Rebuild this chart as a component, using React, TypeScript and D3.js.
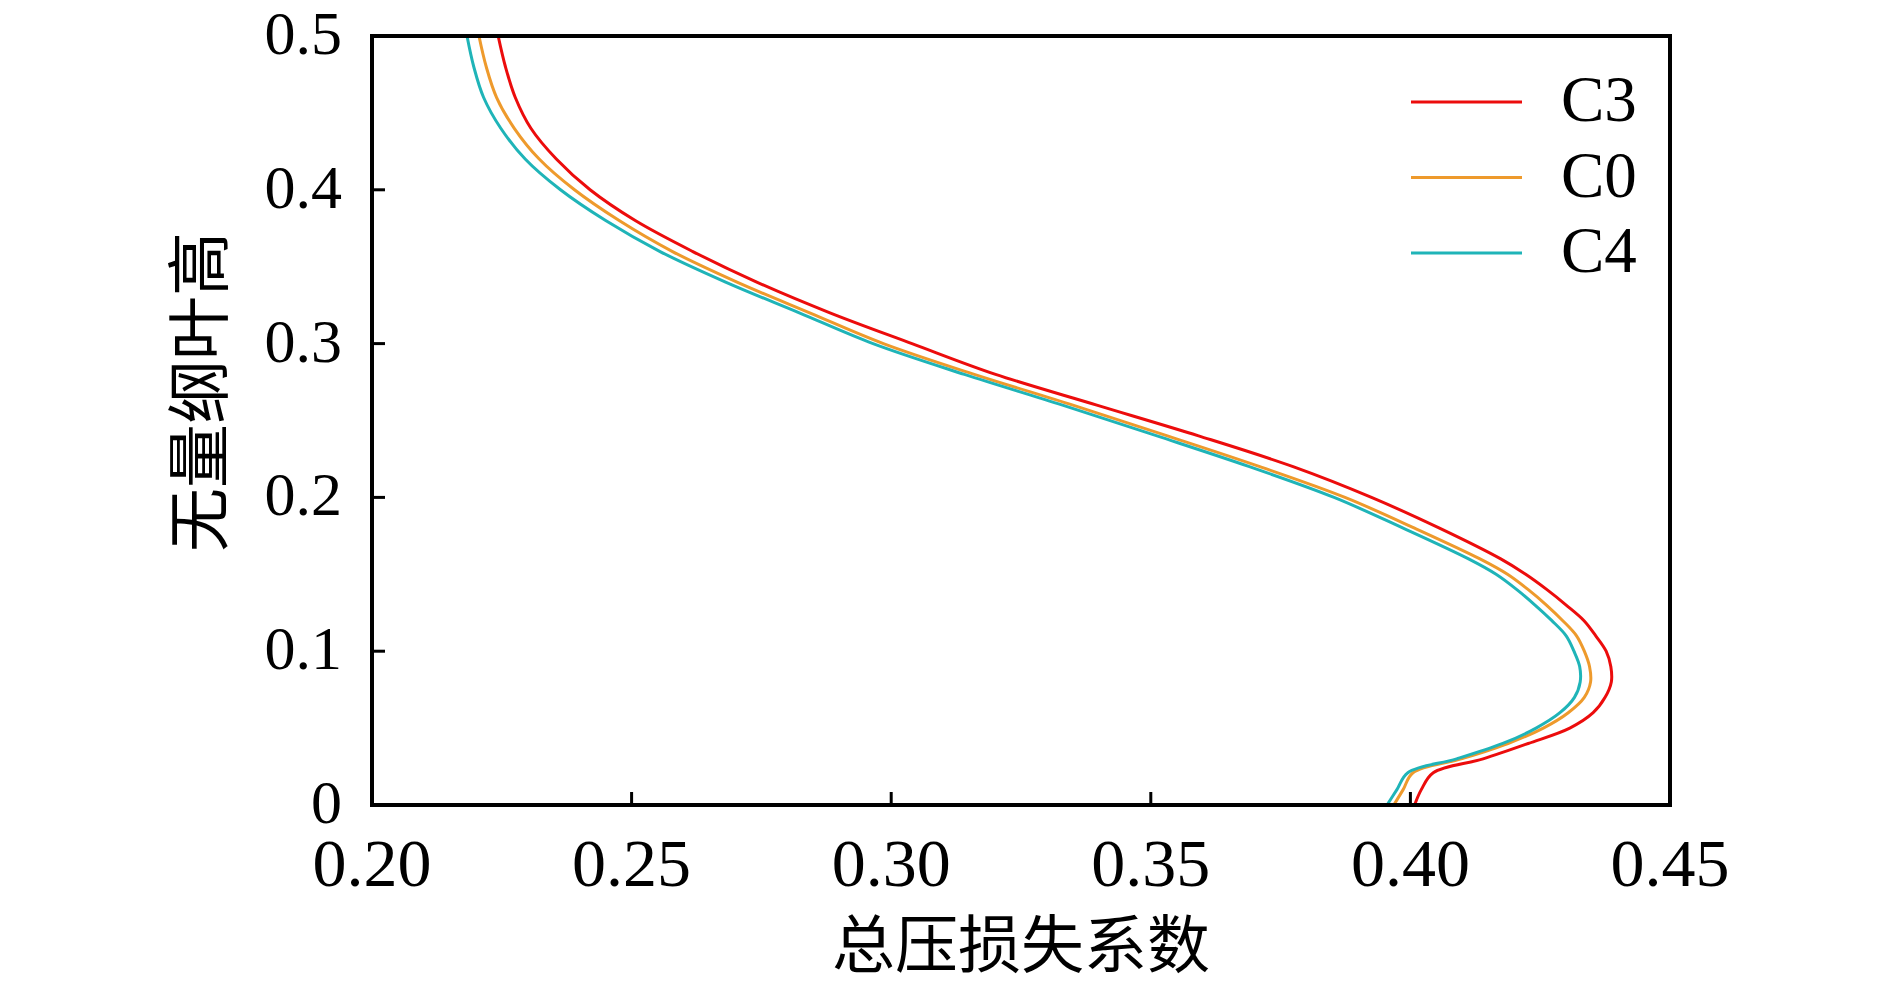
import React, { useEffect, useRef } from "react";
import * as d3 from "d3";

// spanwise height levels (shared by all series)
const heights = [
  0, 0.01, 0.021, 0.03, 0.04, 0.05, 0.06, 0.07, 0.08, 0.09, 0.1, 0.11, 0.12, 0.13, 0.14, 0.15, 0.16,
  0.18, 0.2, 0.22, 0.24, 0.26, 0.28, 0.3, 0.32, 0.34, 0.36, 0.38, 0.4, 0.42, 0.44, 0.46, 0.48, 0.5,
];

const lossC3 = [
  0.4008, 0.4021, 0.4044, 0.414, 0.4227, 0.4307, 0.4352, 0.4375, 0.4387, 0.4386, 0.4377, 0.4357,
  0.4334, 0.43, 0.4263, 0.4222, 0.4174, 0.4056, 0.3925, 0.3774, 0.3592, 0.3396, 0.3201, 0.304,
  0.2882, 0.2741, 0.2617, 0.2507, 0.242, 0.2355, 0.2306, 0.2276, 0.2257, 0.2243,
];

const lossC0 = [
  0.3968, 0.3986, 0.4005, 0.4098, 0.4188, 0.4256, 0.4304, 0.4335, 0.4347, 0.4345, 0.4335, 0.432,
  0.4293, 0.4262, 0.4227, 0.4187, 0.4134, 0.4008, 0.3874, 0.371, 0.3532, 0.335, 0.316, 0.2985,
  0.2843, 0.2703, 0.2578, 0.2476, 0.239, 0.2322, 0.2274, 0.2240, 0.2220, 0.2206,
];

const lossC4 = [
  0.3955, 0.3974, 0.3995, 0.4089, 0.4178, 0.4242, 0.4288, 0.4316, 0.4327, 0.4326, 0.4315, 0.43,
  0.4272, 0.424, 0.4205, 0.4165, 0.4112, 0.3986, 0.3853, 0.369, 0.3512, 0.333, 0.3141, 0.2965,
  0.2823, 0.2681, 0.2554, 0.245, 0.2363, 0.2295, 0.2248, 0.2215, 0.2196, 0.2183,
];

const seriesNames = ["C3", "C0", "C4"];
const seriesColors = ["#ec0c0c", "#ee9a2c", "#1fb4b8"];
const xTicks = [0.2, 0.25, 0.3, 0.35, 0.4, 0.45];
const yTicks = [0, 0.1, 0.2, 0.3, 0.4, 0.5];

const App: React.FC = () => {
  const svgRef = useRef<SVGSVGElement | null>(null);

  useEffect(() => {
    document.body.style.margin = "0";

    const width = 1890;
    const height = 987;
    const margin = { top: 36, right: 220, bottom: 182, left: 372 };
    const serif = "'Liberation Serif', 'Times New Roman', serif";
    const cjk = "'Noto Sans CJK SC', sans-serif";

    const svg = d3.select(svgRef.current);
    svg.selectAll("*").remove();
    svg.attr("width", width).attr("height", height);

    const x = d3
      .scaleLinear()
      .domain([0.2, 0.45])
      .range([margin.left, width - margin.right]);

    const y = d3
      .scaleLinear()
      .domain([0, 0.5])
      .range([height - margin.bottom, margin.top]);

    const allSeries = [lossC3, lossC0, lossC4];

    const line = d3
      .line<number>()
      .x(d => x(d))
      .y((_, i) => y(heights[i]))
      .curve(d3.curveCatmullRom.alpha(0.5));

    // Curves (clipped to the frame)
    svg
      .append("clipPath")
      .attr("id", "plot-clip")
      .append("rect")
      .attr("x", x(0.2))
      .attr("y", y(0.5))
      .attr("width", x(0.45) - x(0.2))
      .attr("height", y(0) - y(0.5));

    svg
      .append("g")
      .attr("clip-path", "url(#plot-clip)")
      .selectAll("path")
      .data(allSeries)
      .join("path")
      .attr("d", d => line(d))
      .attr("fill", "none")
      .attr("stroke", (_, i) => seriesColors[i])
      .attr("stroke-width", 3);

    // Ticks pointing inward
    svg
      .append("g")
      .selectAll("line")
      .data(xTicks.slice(1, -1))
      .join("line")
      .attr("x1", d => x(d))
      .attr("x2", d => x(d))
      .attr("y1", y(0))
      .attr("y2", y(0) - 13)
      .attr("stroke", "#000")
      .attr("stroke-width", 3);

    svg
      .append("g")
      .selectAll("line")
      .data(yTicks.slice(1, -1))
      .join("line")
      .attr("x1", x(0.2))
      .attr("x2", x(0.2) + 13)
      .attr("y1", d => y(d))
      .attr("y2", d => y(d))
      .attr("stroke", "#000")
      .attr("stroke-width", 3);

    // Frame
    svg
      .append("rect")
      .attr("x", x(0.2))
      .attr("y", y(0.5))
      .attr("width", x(0.45) - x(0.2))
      .attr("height", y(0) - y(0.5))
      .attr("fill", "none")
      .attr("stroke", "#000")
      .attr("stroke-width", 4);

    // X tick labels
    svg
      .append("g")
      .selectAll("text")
      .data(xTicks)
      .join("text")
      .attr("x", d => x(d))
      .attr("y", 886)
      .attr("text-anchor", "middle")
      .attr("font-family", serif)
      .attr("font-size", 68)
      .text(d => d3.format(".2f")(d));

    // Y tick labels
    svg
      .append("g")
      .selectAll("text")
      .data(yTicks)
      .join("text")
      .attr("x", 342)
      .attr("y", d => y(d) + 18)
      .attr("text-anchor", "end")
      .attr("font-family", serif)
      .attr("font-size", 62)
      .text(d => (d === 0 ? "0" : d3.format(".1f")(d)));

    // Axis titles
    svg
      .append("text")
      .attr("x", (x(0.2) + x(0.45)) / 2)
      .attr("y", 967)
      .attr("text-anchor", "middle")
      .attr("font-family", cjk)
      .attr("font-size", 63)
      .text("总压损失系数");

    svg
      .append("text")
      .attr("transform", "translate(194,392) rotate(-90)")
      .attr("dominant-baseline", "central")
      .attr("text-anchor", "middle")
      .attr("font-family", cjk)
      .attr("font-size", 64)
      .text("无量纲叶高");

    // Legend
    const legend = svg.append("g").attr("transform", "translate(1411,102)");

    seriesNames.forEach((name, i) => {
      const yPos = i * 75.5;
      legend
        .append("line")
        .attr("x1", 0)
        .attr("x2", 111)
        .attr("y1", yPos)
        .attr("y2", yPos)
        .attr("stroke", seriesColors[i])
        .attr("stroke-width", 3);

      legend
        .append("text")
        .attr("x", 150)
        .attr("y", yPos + 19)
        .attr("font-family", serif)
        .attr("font-size", 65)
        .text(name);
    });
  }, []);

  return <svg ref={svgRef}></svg>;
};

export default App;
